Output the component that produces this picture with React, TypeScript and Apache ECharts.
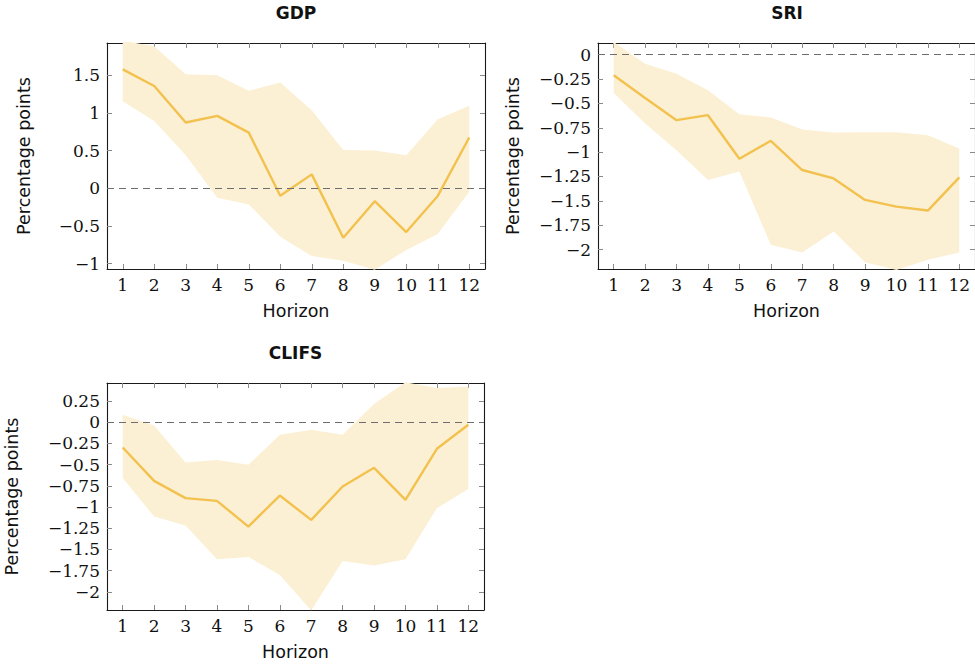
import React, { useEffect, useRef } from "react";
import * as echarts from "echarts";

const horizons = ["1", "2", "3", "4", "5", "6", "7", "8", "9", "10", "11", "12"];

const gdpIrf = [1.58, 1.36, 0.875, 0.963, 0.74, -0.098, 0.186, -0.655, -0.17, -0.58, -0.1, 0.676];
const gdpUpper = [1.96, 1.887, 1.516, 1.503, 1.295, 1.405, 1.038, 0.508, 0.503, 0.44, 0.919, 1.096];
const gdpLower = [1.158, 0.893, 0.44, -0.124, -0.213, -0.641, -0.898, -0.96, -1.08, -0.818, -0.606, -0.045];
const gdpTicks = [-1, -0.5, 0, 0.5, 1, 1.5];

const sriIrf = [-0.212, -0.444, -0.672, -0.621, -1.068, -0.884, -1.184, -1.27, -1.491, -1.56, -1.6, -1.259];
const sriUpper = [0.13, -0.092, -0.195, -0.365, -0.611, -0.645, -0.768, -0.798, -0.795, -0.795, -0.826, -0.962];
const sriLower = [-0.393, -0.706, -0.98, -1.287, -1.2, -1.952, -2.03, -1.816, -2.13, -2.21, -2.105, -2.03];
const sriTicks = [-2, -1.75, -1.5, -1.25, -1, -0.75, -0.5, -0.25, 0];

const clifsIrf = [-0.299, -0.692, -0.896, -0.928, -1.231, -0.865, -1.152, -0.759, -0.539, -0.916, -0.315, -0.032];
const clifsUpper = [0.086, -0.04, -0.476, -0.448, -0.503, -0.15, -0.091, -0.15, 0.212, 0.47, 0.4, 0.42];
const clifsLower = [-0.66, -1.113, -1.219, -1.616, -1.588, -1.8, -2.22, -1.636, -1.69, -1.616, -1.014, -0.787];
const clifsTicks = [-2, -1.75, -1.5, -1.25, -1, -0.75, -0.5, -0.25, 0, 0.25];

const LINE = "#F2C14E";
const BAND = "#FCF0D4";
const SERIF = "DejaVu Serif";
const SANS = "DejaVu Sans";

type Panel = {
  title: string;
  irf: number[];
  upper: number[];
  lower: number[];
  ticks: number[];
  min: number;
  max: number;
  grid: { left: number; top: number; width: number; height: number };
  titleY: number;
};

const panels: Panel[] = [
  { title: "GDP", irf: gdpIrf, upper: gdpUpper, lower: gdpLower, ticks: gdpTicks, min: -1.07, max: 1.93, grid: { left: 107, top: 43, width: 378, height: 226 }, titleY: 13 },
  { title: "SRI", irf: sriIrf, upper: sriUpper, lower: sriLower, ticks: sriTicks, min: -2.2, max: 0.12, grid: { left: 598, top: 43, width: 378, height: 226 }, titleY: 13 },
  { title: "CLIFS", irf: clifsIrf, upper: clifsUpper, lower: clifsLower, ticks: clifsTicks, min: -2.213, max: 0.46, grid: { left: 107, top: 383, width: 377, height: 227 }, titleY: 353 },
];

const fmt = (v: number) => {
  const s = String(Math.round(v * 100) / 100);
  return s.replace("-", "\u2212");
};

export default function App() {
  const ref = useRef<HTMLDivElement>(null);
  useEffect(() => {
    if (!ref.current) return;
    const chart = echarts.init(ref.current, undefined, { renderer: "svg" });
    const grids: any[] = [];
    const xAxes: any[] = [];
    const yAxes: any[] = [];
    const series: any[] = [];
    const graphics: any[] = [];
    panels.forEach((p, i) => {
      grids.push({ ...p.grid, containLabel: false });
      const tickStyle = { show: true, inside: true, length: 5, alignWithLabel: true, lineStyle: { color: "#8a8a8a", width: 1 } };
      const axisLine = { show: true, onZero: false, lineStyle: { color: "#1a1a1a", width: 1.1 } };
      xAxes.push({
        type: "category",
        gridIndex: i,
        data: horizons,
        position: "bottom",
        boundaryGap: true,
        axisLine,
        axisTick: { ...tickStyle, interval: 0 },
        axisLabel: { show: true, interval: 0, color: "#111", fontFamily: SERIF, fontSize: 17, margin: 7 },
        name: "Horizon",
        nameLocation: "middle",
        nameGap: 33,
        nameTextStyle: { fontFamily: SANS, fontSize: 17.5, color: "#111" },
        splitLine: { show: false },
      });
      xAxes.push({
        type: "category",
        gridIndex: i,
        data: horizons,
        position: "top",
        boundaryGap: true,
        axisLine,
        axisTick: { ...tickStyle, interval: 0 },
        axisLabel: { show: false },
        splitLine: { show: false },
      });
      const yTick = { show: true, inside: true, length: 5, customValues: p.ticks, lineStyle: { color: "#8a8a8a", width: 1 } };
      yAxes.push({
        type: "value",
        gridIndex: i,
        position: "left",
        min: p.min,
        max: p.max,
        axisLine,
        axisTick: yTick,
        axisLabel: { show: true, customValues: p.ticks, formatter: fmt, color: "#111", fontFamily: SERIF, fontSize: 17, margin: 7 },
        splitLine: { show: false },
        name: "Percentage points",
        nameLocation: "middle",
        nameRotate: 90,
        nameGap: i === 0 ? 74 : i === 1 ? 76 : 86,
        nameTextStyle: { fontFamily: SANS, fontSize: 17.5, color: "#111" },
      });
      yAxes.push({
        type: "value",
        gridIndex: i,
        position: "right",
        min: p.min,
        max: p.max,
        axisLine,
        axisTick: yTick,
        axisLabel: { show: false },
        splitLine: { show: false },
      });
      const stack = "band" + i;
      series.push({
        type: "line",
        xAxisIndex: i * 2,
        yAxisIndex: i * 2,
        data: p.lower,
        stack,
        stackStrategy: "all",
        symbol: "none",
        lineStyle: { opacity: 0 },
        silent: true,
        z: 1,
      });
      series.push({
        type: "line",
        xAxisIndex: i * 2,
        yAxisIndex: i * 2,
        data: p.upper.map((u, k) => u - p.lower[k]),
        stack,
        stackStrategy: "all",
        symbol: "none",
        lineStyle: { opacity: 0 },
        areaStyle: { color: BAND, opacity: 1 },
        silent: true,
        z: 1,
        markLine: {
          silent: true,
          symbol: ["none", "none"],
          label: { show: false },
          lineStyle: { color: "#6e6e6e", type: [7, 5], width: 1 },
          data: [{ yAxis: 0 }],
        },
      });
      series.push({
        type: "line",
        xAxisIndex: i * 2,
        yAxisIndex: i * 2,
        data: p.irf,
        symbol: "none",
        lineStyle: { color: LINE, width: 2.4 },
        z: 3,
      });
      graphics.push({
        type: "text",
        x: p.grid.left + p.grid.width / 2,
        y: p.titleY,
        style: { text: p.title, align: "center", verticalAlign: "middle", font: `bold 17px "${SANS}"`, fill: "#111" },
      });
    });
    chart.setOption({
      animation: false,
      backgroundColor: "#fff",
      grid: grids,
      xAxis: xAxes,
      yAxis: yAxes,
      series,
      graphic: graphics,
    });
    return () => chart.dispose();
  }, []);
  return <div ref={ref} style={{ position: "fixed", left: 0, top: 0, width: 975, height: 667 }} />;
}
